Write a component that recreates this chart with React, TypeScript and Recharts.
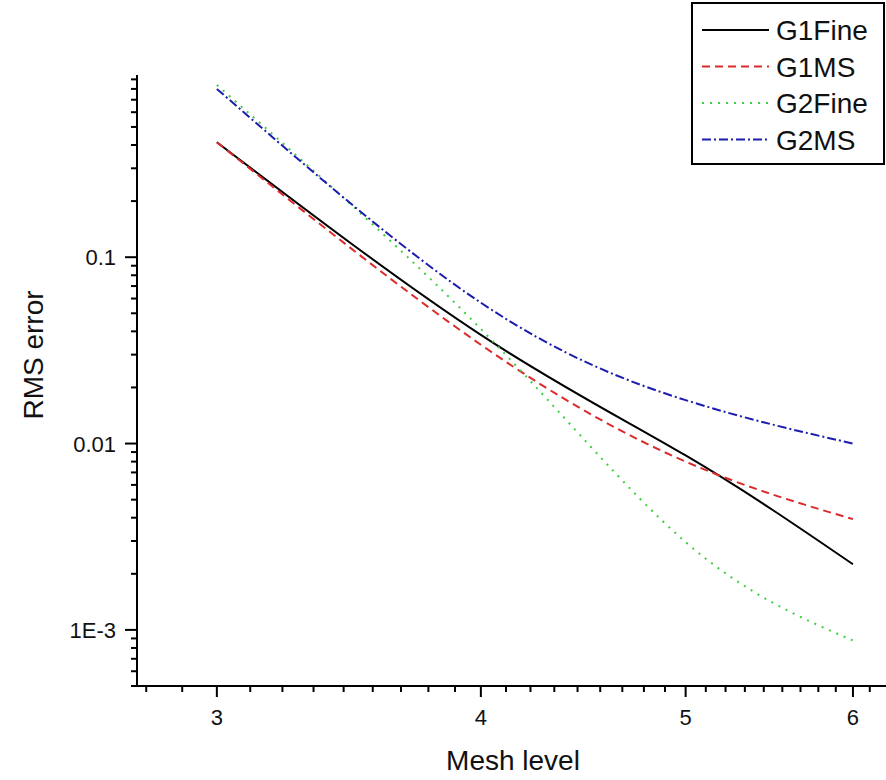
import React from 'react';
import { LineChart, Line, XAxis, YAxis, Legend, Label } from 'recharts';

// Convergence of RMS error with mesh refinement (log-log)
const meshLevels = [3, 4, 5, 6];
const g1Fine = [0.414, 0.0383, 0.00863, 0.00225];
const g1MS = [0.414, 0.0339, 0.008, 0.00393];
const g2Fine = [0.84, 0.0412, 0.00296, 0.000877];
const g2MS = [0.8, 0.057, 0.0171, 0.01];

const xMajorTicks = [3, 4, 5, 6];
const xTickLabels = ['3', '4', '5', '6'];
const yMajorTicks = [0.001, 0.01, 0.1];
const yTickLabels = ['1E-3', '0.01', '0.1'];

const X_DOMAIN: [number, number] = [2.75, 6.22];
const Y_DOMAIN: [number, number] = [5e-4, 0.95];

const FONT = '"Liberation Sans", Arial, Helvetica, sans-serif';

const chartData = meshLevels.map((level, i) => ({
  level,
  g1Fine: g1Fine[i],
  g1MS: g1MS[i],
  g2Fine: g2Fine[i],
  g2MS: g2MS[i],
}));

const seriesStyles = [
  { key: 'g1Fine', name: 'G1Fine', color: '#000000', dash: undefined as string | undefined },
  { key: 'g1MS', name: 'G1MS', color: '#dd2a2a', dash: '8 5' },
  { key: 'g2Fine', name: 'G2Fine', color: '#3fcf3f', dash: '2 6' },
  { key: 'g2MS', name: 'G2MS', color: '#1c1cae', dash: '9 3 2 3' },
];

const inDomain = (v: number, d: [number, number]) => v >= d[0] - 1e-12 && v <= d[1] + 1e-12;

// Minor ticks: eight evenly spaced steps between integer levels
const xTicks: number[] = [];
for (let n = 2; n <= 6; n++) {
  for (let k = 0; k < 9; k++) {
    const v = n + k / 9;
    if (inDomain(v, X_DOMAIN)) xTicks.push(v);
  }
}

// Minor ticks: 2..9 within each decade
const yTicks: number[] = [];
for (let e = -4; e <= -1; e++) {
  for (let m = 1; m <= 9; m++) {
    const v = m * Math.pow(10, e);
    if (inDomain(v, Y_DOMAIN)) yTicks.push(v);
  }
}

const majorIndex = (v: number, majors: number[]) =>
  majors.findIndex((t) => Math.abs(t - v) / t < 1e-6);

const XTick = (props: any) => {
  const { x, y, payload } = props;
  const idx = majorIndex(payload.value, xMajorTicks);
  const major = idx >= 0;
  return (
    <g>
      <line x1={x} x2={x} y1={y} y2={y + (major ? 11 : 6)} stroke="#000" strokeWidth={2} />
      {major && (
        <text x={x} y={y + 39} textAnchor="middle" fontSize={22} fontFamily={FONT} fill="#111">
          {xTickLabels[idx]}
        </text>
      )}
    </g>
  );
};

const YTick = (props: any) => {
  const { x, y, payload } = props;
  const idx = majorIndex(payload.value, yMajorTicks);
  const major = idx >= 0;
  return (
    <g>
      <line x1={x} x2={x - (major ? 12 : 6)} y1={y} y2={y} stroke="#000" strokeWidth={2} />
      {major && (
        <text x={x - 21} y={y + 8} textAnchor="end" fontSize={22} fontFamily={FONT} fill="#111">
          {yTickLabels[idx]}
        </text>
      )}
    </g>
  );
};

const renderLegend = (props: any) => {
  const payload: any[] = props.payload || [];
  return (
    <svg width={196} height={165} style={{ display: 'block' }}>
      <rect x={1} y={1} width={192} height={161} fill="#fff" stroke="#000" strokeWidth={2} />
      {payload.map((entry, i) => {
        const style = seriesStyles.find((s) => s.key === entry.dataKey) || seriesStyles[i];
        const cy = 28 + i * 36.5;
        return (
          <g key={style.key}>
            <line
              x1={11}
              x2={78}
              y1={cy}
              y2={cy}
              stroke={style.color}
              strokeWidth={2}
              strokeDasharray={style.dash}
            />
            <text x={85} y={cy + 10} fontSize={28} fontFamily={FONT} fill="#111">
              {style.name}
            </text>
          </g>
        );
      })}
    </svg>
  );
};

export default function App() {
  return (
    <div style={{ position: 'absolute', left: 0, top: 0, background: '#fff' }}>
      <LineChart
        width={886}
        height={780}
        data={chartData}
        margin={{ top: 75, right: 0, bottom: 0, left: 0 }}
      >
        <XAxis
          dataKey="level"
          type="number"
          scale="log"
          domain={X_DOMAIN}
          allowDataOverflow
          ticks={xTicks}
          interval={0}
          tickSize={0}
          tickMargin={0}
          tickLine={false}
          tick={<XTick />}
          axisLine={{ stroke: '#000', strokeWidth: 2 }}
          height={94}
        >
          <Label
            content={() => (
              <text x={513} y={770} textAnchor="middle" fontSize={28} fontFamily={FONT} fill="#111">
                Mesh level
              </text>
            )}
          />
        </XAxis>
        <YAxis
          type="number"
          scale="log"
          domain={Y_DOMAIN}
          allowDataOverflow
          ticks={yTicks}
          interval={0}
          tickSize={0}
          tickMargin={0}
          tickLine={false}
          tick={<YTick />}
          axisLine={{ stroke: '#000', strokeWidth: 2 }}
          width={137}
        >
          <Label
            content={() => (
              <text
                x={43}
                y={355}
                transform="rotate(-90 43 355)"
                textAnchor="middle"
                fontSize={28}
                fontFamily={FONT}
                fill="#111"
              >
                RMS error
              </text>
            )}
          />
        </YAxis>
        <Legend
          layout="vertical"
          align="center"
          verticalAlign="middle"
          content={renderLegend}
          wrapperStyle={{ left: 691, top: 2, width: 196, height: 165 }}
        />
        {seriesStyles.map((s) => (
          <Line
            key={s.key}
            dataKey={s.key}
            name={s.name}
            type="natural"
            stroke={s.color}
            strokeWidth={2}
            strokeDasharray={s.dash}
            dot={false}
            activeDot={false}
            isAnimationActive={false}
          />
        ))}
      </LineChart>
    </div>
  );
}
